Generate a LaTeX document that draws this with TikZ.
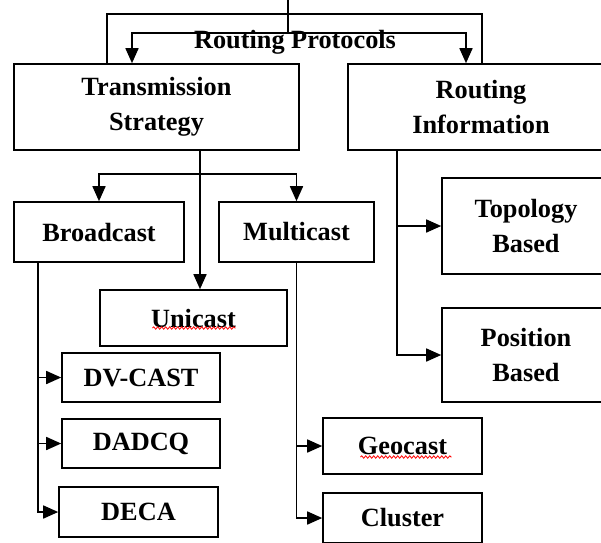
\documentclass[tikz,border=0pt]{standalone}
\usepackage{fontspec}
\setmainfont{Liberation Serif}
\usetikzlibrary{arrows.meta,calc,decorations.pathmorphing}

\begin{document}
\begin{tikzpicture}[x=1pt,y=-1pt,
	box/.style={draw,line width=1.6pt,inner sep=0pt,align=center,
		font=\fontsize{26.3}{35}\selectfont\bfseries},
	link/.style={line width=1.6pt},
	arr/.style={link,-{Triangle[length=15pt,width=13pt]}},
	spell/.style={red,line width=0.8pt,decorate,
		decoration={snake,segment length=4pt,amplitude=1.2pt}}]
		\useasboundingbox (0,0) rectangle (601,542);
		\begin{scope}
		% boxes
		\node[box,minimum width=285,minimum height=86] (trans) at (156.5,107) {Transmission\\Strategy};
		\node[box,minimum width=266,minimum height=86] (rinfo) at (481,107) {Routing\\Information};
		\node[box,minimum width=170,minimum height=60] (bcast) at (99,232) {Broadcast};
		\node[box,minimum width=155,minimum height=60] (mcast) at (296.5,232) {Multicast};
		\node[box,minimum width=187,minimum height=56] (ucast) at (193.5,318) {Unicast};
		\node[box,minimum width=168,minimum height=96] (topo) at (526,226) {Topology\\Based};
		\node[box,minimum width=168,minimum height=94] (posn) at (526,355) {Position\\Based};
		\node[box,minimum width=158,minimum height=49] (dvcast) at (141,377.5) {DV-CAST};
		\node[box,minimum width=158,minimum height=49] (dadcq) at (141,443.5) {DADCQ};
		\node[box,minimum width=159,minimum height=50] (deca) at (138.5,512) {DECA};
		\node[box,minimum width=159,minimum height=56] (geo) at (402.5,446) {Geocast};
		\node[box,minimum width=159,minimum height=50] (clus) at (402.5,518) {Cluster};
		\node[font=\fontsize{26.3}{35}\selectfont\bfseries,inner sep=0pt] (rprot) at (295,42) {Routing Protocols};
		% top
		\coordinate (root) at (288,0);
		\coordinate (split) at (288,33);
		\coordinate (ileft) at (132,33);
		\coordinate (iright) at (466,33);
		\coordinate (oleft) at (107,14);
		\coordinate (oright) at (482,14);
		\draw[link] (root) -- (split);
		\draw[arr] (split) -- (ileft) -- (trans.north -| ileft);
		\draw[arr] (split) -- (iright) -- (rinfo.north -| iright);
		\draw[link] (trans.north -| oleft) -- (oleft) -- (oright) -- (rinfo.north -| oright);
		% transmission strategy
		\coordinate (tbus) at (200,174);
		\draw[arr] (trans.south -| tbus) -- (ucast.north -| tbus);
		\draw[arr] (tbus) -| (bcast.north);
		\draw[arr] (tbus) -| (mcast.north);
		% routing information
		\coordinate (rbus) at (397,0);
		\draw[arr] (rinfo.south -| rbus) |- (posn.west);
		\draw[arr] (rbus |- topo.west) -- (topo.west);
		% broadcast
		\coordinate (bbus) at (38,0);
		\draw[arr] (bcast.south -| bbus) |- (deca.west);
		\draw[arr] (bbus |- dvcast.west) -- (dvcast.west);
		\draw[arr] (bbus |- dadcq.west) -- (dadcq.west);
		% multicast
		\draw[arr] (mcast.south) |- (clus.west);
		\draw[arr] (mcast.south |- geo.west) -- (geo.west);
		% spelling marks
		\draw[spell] ($(ucast.center)+(-41,10)$) -- ++(83,0);
		\draw[spell] ($(geo.center)+(-42,11)$) -- ++(91,0);
		\end{scope}
		
		\end{tikzpicture}
\end{document}
